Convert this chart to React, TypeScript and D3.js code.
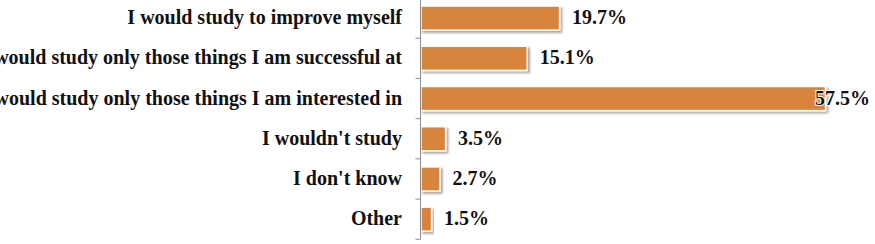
import React from "react";
import * as d3 from "d3";

const categories = [
  "I would study to improve myself",
  "I would study only those things I am successful at",
  "I would study only those things I am interested in",
  "I wouldn't study",
  "I don't know",
  "Other",
];
const values = [19.7, 15.1, 57.5, 3.5, 2.7, 1.5];
const valueLabels = ["19.7%", "15.1%", "57.5%", "3.5%", "2.7%", "1.5%"];

const W = 875;
const H = 244;
const FONT = "'Liberation Serif', 'Times New Roman', serif";

export default function App() {
  const axisX = 420.5;
  const y = d3
    .scaleBand<string>()
    .domain(categories)
    .range([-2, 239.3])
    .paddingInner(0.4)
    .paddingOuter(0.2);
  const x = d3.scaleLinear().domain([0, 57.5]).range([axisX, 825]);
  const step = y.step();
  const boundaries = d3.range(categories.length + 1).map((i) => -2 + i * step);
  const labelFont = 20;

  return (
    <svg
      width={W}
      height={H}
      style={{ position: "absolute", left: 0, top: 0, background: "#fff" }}
    >
      <defs>
        <filter id="shadow" x="-10%" y="-30%" width="130%" height="180%">
          <feDropShadow dx="2" dy="2" stdDeviation="1.2" floodColor="#000" floodOpacity="0.35" />
        </filter>
      </defs>
      {categories.map((c, i) => {
        const by = y(c)!;
        const bw = x(values[i]) - axisX;
        return (
          <rect
            key={c}
            x={axisX + 0.5}
            y={by}
            width={bw}
            height={y.bandwidth()}
            fill="#D9843E"
            stroke="#fff"
            strokeWidth={1.5}
            filter="url(#shadow)"
          />
        );
      })}
      <line x1={axisX} x2={axisX} y1={-2} y2={239.3} stroke="#8c8c8c" strokeWidth={1} />
      {boundaries.map((b, i) => (
        <line key={i} x1={axisX - 5} x2={axisX} y1={b} y2={b} stroke="#8c8c8c" strokeWidth={1} />
      ))}
      {categories.map((c, i) => (
        <text
          key={c}
          x={402}
          y={y(c)! + y.bandwidth() / 2}
          dy="0.3em"
          textAnchor="end"
          fontFamily={FONT}
          fontWeight="bold"
          fontSize={labelFont}
          fill="#111"
        >
          {c}
        </text>
      ))}
      {categories.map((c, i) => {
        const end = x(values[i]);
        const overflow = end + 13 + 56 > 872;
        return (
          <text
            key={c}
            x={overflow ? 870 : end + 13}
            y={y(c)! + y.bandwidth() / 2}
            dy="0.3em"
            textAnchor={overflow ? "end" : "start"}
            fontFamily={FONT}
            fontWeight="bold"
            fontSize={labelFont}
            fill="#111"
            stroke="#fff"
            strokeWidth={2}
            paintOrder="stroke"
          >
            {valueLabels[i]}
          </text>
        );
      })}
    </svg>
  );
}
